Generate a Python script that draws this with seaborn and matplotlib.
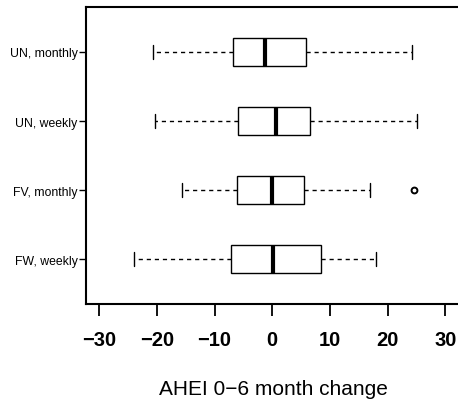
import matplotlib
matplotlib.use("Agg")
import matplotlib.pyplot as plt
import pandas as pd
import seaborn as sns

# groups, top to bottom
groups = ["UN, monthly", "UN, weekly", "FV, monthly", "FW, weekly"]

# values: whisker ends, quartiles, median (and one outlier)
un_monthly = [-20.7, -6.8, -1.2, 5.9, 24.3]
un_weekly = [-20.4, -5.9, 0.7, 6.6, 25.1]
fv_monthly = [-15.6, -6.2, -6.2, 0.0, 0.0, 5.5, 5.5, 16.9, 24.5]
fw_weekly = [-23.9, -7.1, 0.1, 8.5, 18.0]

x_ticks = [-30, -20, -10, 0, 10, 20, 30]

df = pd.DataFrame(
    [(g, v) for g, vals in zip(groups, [un_monthly, un_weekly, fv_monthly, fw_weekly])
     for v in vals],
    columns=["group", "change"],
)

sns.set_theme(style="ticks")
plt.rcParams["font.family"] = ["Liberation Sans", "DejaVu Sans"]
plt.rcParams["text.color"] = "black"
plt.rcParams["axes.labelcolor"] = "black"

fig = plt.figure(figsize=(4.58, 4.10), dpi=100)
ax = fig.add_axes([0.1878, 0.256, 1.005 - 0.1878, 0.9805 - 0.256])

sns.boxplot(
    data=df, x="change", y="group", order=groups, orient="h",
    width=0.41, color="white", linecolor="black", linewidth=1.0,
    whis=1.5, ax=ax,
    whiskerprops={"linestyle": (0, (3.0, 2.8)), "linewidth": 1.0},
    capprops={"linewidth": 1.0},
    medianprops={"linewidth": 3.0, "color": "black", "solid_capstyle": "butt"},
    flierprops={"marker": "o", "markerfacecolor": "none",
                "markeredgecolor": "black", "markersize": 4.2,
                "markeredgewidth": 1.4},
)

ax.set_xlim(-32.3, 32.6)
ax.set_ylim(3.652, -0.652)
ax.set_xticks(x_ticks)
ax.set_xticklabels([str(t).replace("-", "\u2212") for t in x_ticks],
                   fontsize=14.5, fontweight="bold")
ax.tick_params(axis="x", direction="out", length=8.5, width=1.3, pad=10,
               colors="black")
ax.tick_params(axis="y", direction="out", length=5, width=1.0, pad=1,
               labelsize=8.8, colors="black")

for s in ax.spines.values():
    s.set_visible(True)
    s.set_linewidth(1.5)
    s.set_color("black")

ax.set_ylabel("")
ax.set_xlabel("AHEI 0\u22126 month change", fontsize=15, labelpad=22,
              color="black")

fig.savefig("out.png", dpi=100)
